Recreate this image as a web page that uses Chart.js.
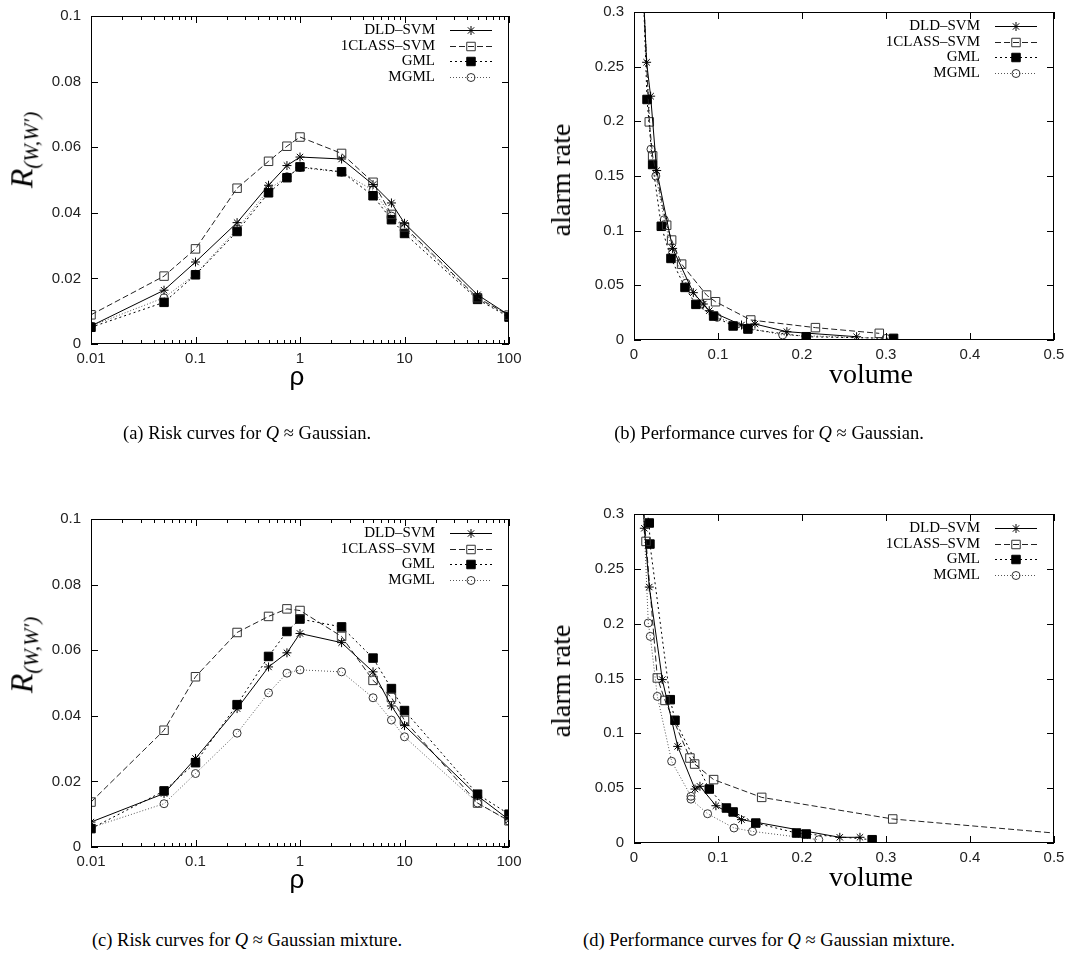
<!DOCTYPE html>
<html>
<head>
<meta charset="utf-8">
<script src="https://cdn.jsdelivr.net/npm/chart.js@4.4.1/dist/chart.umd.min.js"></script>
<style>
  body { margin: 0; background: #fff; width: 1090px; height: 955px; position: relative; overflow: hidden; }
  canvas { position: absolute; }
  .cap { position: absolute; font-family: "Liberation Serif", "Times New Roman", serif; font-size: 18.5px; color: #000; white-space: nowrap; transform: translate(-50%, -50%); line-height: 1; }
  .xt { position: absolute; white-space: nowrap; color: #000; transform: translate(-50%, -50%); line-height: 1; }
  .yt { position: absolute; white-space: nowrap; color: #000; transform: translate(-50%, -50%) rotate(-90deg); line-height: 1; }
  .rho { font-family: "Liberation Sans", Arial, sans-serif; font-size: 26px; }
  .serif { font-family: "Liberation Serif", "Times New Roman", serif; font-size: 28px; }
  .rt { font-family: "Liberation Serif", "Times New Roman", serif; font-size: 32px; font-style: italic; }
  .rt sub { font-size: 21px; vertical-align: -0.3em; }
</style>
</head>
<body>
<canvas id="riskGauss" width="545" height="400" style="left:0;top:0"></canvas>
<canvas id="perfGauss" width="545" height="400" style="left:545px;top:0"></canvas>
<canvas id="riskMix" width="545" height="400" style="left:0;top:500px"></canvas>
<canvas id="perfMix" width="545" height="400" style="left:545px;top:500px"></canvas>

<div class="yt rt" style="left:24px;top:150px">R<sub>(W,W′)</sub></div>
<div class="yt rt" style="left:24px;top:655px">R<sub>(W,W′)</sub></div>
<div class="yt serif" style="left:561px;top:180px">alarm rate</div>
<div class="yt serif" style="left:561px;top:681px">alarm rate</div>
<div class="xt rho" style="left:297px;top:376px">ρ</div>
<div class="xt rho" style="left:297px;top:879px">ρ</div>
<div class="xt serif" style="left:871px;top:374px">volume</div>
<div class="xt serif" style="left:871px;top:877px">volume</div>

<div class="cap" style="left:247px;top:433px">(a) Risk curves for <i>Q</i> ≈ Gaussian.</div>
<div class="cap" style="left:769px;top:433px">(b) Performance curves for <i>Q</i> ≈ Gaussian.</div>
<div class="cap" style="left:247px;top:940px">(c) Risk curves for <i>Q</i> ≈ Gaussian mixture.</div>
<div class="cap" style="left:769px;top:940px">(d) Performance curves for <i>Q</i> ≈ Gaussian mixture.</div>

<script>
// axes
const rhoValues = [0.01, 0.05, 0.1, 0.25, 0.5, 0.75, 1, 2.5, 5, 7.5, 10, 50, 100];
const rhoTicks = [0.01, 0.1, 1, 10, 100];
const riskTicks = [0, 0.02, 0.04, 0.06, 0.08, 0.1];
const volumeTicks = [0, 0.1, 0.2, 0.3, 0.4, 0.5];
const alarmTicks = [0, 0.05, 0.1, 0.15, 0.2, 0.25, 0.3];

// (a) risk, Q ~ Gaussian
const riskGaussDLD = [0.0055, 0.0164, 0.025, 0.037, 0.0484, 0.0544, 0.057, 0.0564, 0.0486, 0.043, 0.0368, 0.015, 0.0088];
const riskGauss1Class = [0.0089, 0.0207, 0.029, 0.0475, 0.0557, 0.0603, 0.0631, 0.0581, 0.0493, 0.0395, 0.0357, 0.0141, 0.0088];
const riskGaussGML = [0.0051, 0.0127, 0.0211, 0.0343, 0.0461, 0.0507, 0.054, 0.0525, 0.0452, 0.0379, 0.0337, 0.0136, 0.0082];
const riskGaussMGML = [0.0055, 0.0141, 0.0213, 0.035, 0.0471, 0.051, 0.0538, 0.0524, 0.0469, 0.039, 0.0352, 0.0139, 0.0086];

// (c) risk, Q ~ Gaussian mixture
const riskMixDLD = [0.0076, 0.0163, 0.027, 0.0422, 0.0549, 0.0592, 0.0651, 0.0623, 0.0534, 0.043, 0.037, 0.0156, 0.0083];
const riskMix1Class = [0.0137, 0.0356, 0.0519, 0.0654, 0.0703, 0.0726, 0.0721, 0.0642, 0.0508, 0.0456, 0.0386, 0.0134, 0.008];
const riskMixGML = [0.0056, 0.0171, 0.0257, 0.0434, 0.0581, 0.0657, 0.0695, 0.0671, 0.0576, 0.0483, 0.0416, 0.0161, 0.01];
const riskMixMGML = [0.0059, 0.0132, 0.0224, 0.0347, 0.047, 0.053, 0.054, 0.0534, 0.0455, 0.0387, 0.0336, 0.0134, 0.0079];

// (b) performance, Q ~ Gaussian
const perfGaussDLDVol = [0.011, 0.015, 0.0198, 0.027, 0.046, 0.0706, 0.0825, 0.0896, 0.128, 0.144, 0.182, 0.265];
const perfGaussDLDAlarm = [0.32, 0.254, 0.223, 0.155, 0.0838, 0.0433, 0.0329, 0.0268, 0.0137, 0.0146, 0.0076, 0.003];
const perfGauss1ClassVol = [0.011, 0.0182, 0.0222, 0.0389, 0.0448, 0.0567, 0.0864, 0.0971, 0.139, 0.216, 0.292];
const perfGauss1ClassAlarm = [0.32, 0.1995, 0.1684, 0.105, 0.0914, 0.0694, 0.0411, 0.035, 0.0183, 0.0113, 0.0061];
const perfGaussGMLVol = [0.011, 0.0155, 0.0222, 0.0325, 0.044, 0.0607, 0.0737, 0.0948, 0.118, 0.1356, 0.205, 0.309];
const perfGaussGMLAlarm = [0.32, 0.22, 0.1605, 0.104, 0.0746, 0.0481, 0.0326, 0.0219, 0.0128, 0.010, 0.003, 0.0015];
const perfGaussMGMLVol = [0.011, 0.0202, 0.026, 0.036, 0.046, 0.062, 0.08, 0.099, 0.135, 0.177, 0.30];
const perfGaussMGMLAlarm = [0.32, 0.1745, 0.15, 0.11, 0.08, 0.052, 0.033, 0.0207, 0.011, 0.0046, 0.0015];

// (d) performance, Q ~ Gaussian mixture
const perfMixDLDVol = [0.011, 0.0123, 0.0182, 0.0337, 0.052, 0.0726, 0.0785, 0.0975, 0.128, 0.245, 0.269];
const perfMixDLDAlarm = [0.31, 0.287, 0.2334, 0.149, 0.0881, 0.0492, 0.0517, 0.034, 0.0213, 0.0052, 0.0052];
const perfMix1ClassVol = [0.011, 0.0143, 0.0278, 0.0369, 0.0666, 0.0722, 0.0948, 0.152, 0.308, 0.56];
const perfMix1ClassAlarm = [0.31, 0.275, 0.1505, 0.13, 0.0775, 0.072, 0.0578, 0.0416, 0.0219, 0.0051];
const perfMixGMLVol = [0.013, 0.0182, 0.019, 0.0432, 0.0488, 0.0896, 0.11, 0.118, 0.145, 0.1935, 0.205, 0.2835];
const perfMixGMLAlarm = [0.31, 0.2918, 0.2726, 0.1307, 0.1119, 0.0492, 0.0319, 0.0283, 0.0182, 0.0091, 0.0082, 0.003];
const perfMixMGMLVol = [0.011, 0.017, 0.0194, 0.0278, 0.0448, 0.0678, 0.0678, 0.0876, 0.119, 0.141, 0.22];
const perfMixMGMLAlarm = [0.31, 0.2006, 0.1884, 0.1337, 0.0745, 0.0426, 0.040, 0.0267, 0.0137, 0.0106, 0.003];

const seriesStyle = {
  dld:  { label: "DLD–SVM",    borderColor: "#000", borderDash: [],     pointStyle: "star",   pointRadius: 4.5, pointBackgroundColor: "rgba(0,0,0,0)", pointBorderColor: "#000" },
  one:  { label: "1CLASS–SVM", borderColor: "#222", borderDash: [6, 3], pointStyle: "rect",   pointRadius: 6,   pointBackgroundColor: "rgba(0,0,0,0)", pointBorderColor: "#333" },
  gml:  { label: "GML",        borderColor: "#000", borderDash: [2, 3], pointStyle: "rect",   pointRadius: 6,   pointBackgroundColor: "#000",          pointBorderColor: "#000" },
  mgml: { label: "MGML",       borderColor: "#555", borderDash: [1, 2], pointStyle: "circle", pointRadius: 4,   pointBackgroundColor: "rgba(0,0,0,0)", pointBorderColor: "#333" }
};

function series(key, xs, ys) {
  const s = seriesStyle[key];
  return Object.assign({}, s, {
    data: xs.map((x, i) => ({ x: x, y: ys[i] })),
    showLine: true,
    borderWidth: 1,
    pointBorderWidth: 1,
    pointHoverRadius: s.pointRadius
  });
}

// box around the plot + inward ticks on all four sides
const frame = {
  id: "frame",
  afterDatasetsDraw(chart) {
    const ctx = chart.ctx, a = chart.chartArea, x = chart.scales.x, y = chart.scales.y;
    ctx.save();
    ctx.strokeStyle = "#000";
    ctx.lineWidth = 1;
    ctx.setLineDash([]);
    ctx.strokeRect(Math.round(a.left) + 0.5, Math.round(a.top) + 0.5, Math.round(a.right - a.left) - 1, Math.round(a.bottom - a.top) - 1);
    ctx.beginPath();
    const xTick = (v, len) => {
      const px = Math.round(x.getPixelForValue(v)) + 0.5;
      ctx.moveTo(px, a.bottom); ctx.lineTo(px, a.bottom - len);
      ctx.moveTo(px, a.top); ctx.lineTo(px, a.top + len);
    };
    const yTick = (v, len) => {
      const py = Math.round(y.getPixelForValue(v)) + 0.5;
      ctx.moveTo(a.left, py); ctx.lineTo(a.left + len, py);
      ctx.moveTo(a.right, py); ctx.lineTo(a.right - len, py);
    };
    x.ticks.forEach(t => xTick(t.value, 7));
    y.ticks.forEach(t => yTick(t.value, 7));
    if (x.type === "logarithmic") {
      for (let d = x.min; d < x.max; d *= 10) {
        for (let k = 2; k <= 9; k++) xTick(d * k, 4);
      }
    }
    ctx.stroke();
    ctx.restore();
  }
};

// gnuplot style key: label, then line sample with marker
const keyBox = {
  id: "keyBox",
  afterDatasetsDraw(chart) {
    const ctx = chart.ctx, a = chart.chartArea;
    ctx.save();
    ctx.font = '15px "Liberation Serif", "Times New Roman", serif';
    ctx.textAlign = "right";
    ctx.textBaseline = "middle";
    chart.data.datasets.forEach((ds, i) => {
      const yy = Math.round(a.top + 14 + i * 15.6) + 0.5;
      ctx.fillStyle = "#000";
      ctx.fillText(ds.label, a.right - 74, yy);
      ctx.strokeStyle = ds.borderColor;
      ctx.lineWidth = 1;
      ctx.setLineDash(ds.borderDash);
      ctx.beginPath();
      ctx.moveTo(a.right - 59, yy);
      ctx.lineTo(a.right - 17, yy);
      ctx.stroke();
      ctx.setLineDash([]);
      ctx.fillStyle = ds.pointBackgroundColor;
      ctx.strokeStyle = ds.pointBorderColor;
      Chart.helpers.drawPoint(ctx, { pointStyle: ds.pointStyle, radius: ds.pointRadius, borderWidth: 1, rotation: 0 }, a.right - 38, yy);
    });
    ctx.restore();
  }
};

const tickFont = { family: '"Liberation Sans", Arial, sans-serif', size: 15 };

function makeChart(id, area, xOpts, yOpts, datasets) {
  const xh = 40;
  return new Chart(document.getElementById(id), {
    type: "scatter",
    data: { datasets: datasets },
    options: {
      responsive: false,
      animation: false,
      events: [],
      layout: { padding: { left: 0, top: area.top, right: 545 - area.right, bottom: 400 - area.bottom - xh } },
      plugins: { legend: { display: false }, tooltip: { enabled: false } },
      scales: {
        x: Object.assign({
          grid: { display: false },
          border: { display: false },
          afterFit: s => { s.height = xh; },
          ticks: { font: tickFont, color: "#222", padding: -2, maxRotation: 0, autoSkip: false, callback: v => String(v) }
        }, xOpts),
        y: Object.assign({
          grid: { display: false },
          border: { display: false },
          afterFit: s => { s.width = area.left; },
          ticks: { font: tickFont, color: "#222", padding: 2, autoSkip: false, callback: v => String(+v.toFixed(3)) }
        }, yOpts)
      }
    },
    plugins: [frame, keyBox]
  });
}

const rhoAxis = { type: "logarithmic", min: 0.01, max: 100, afterBuildTicks: s => { s.ticks = rhoTicks.map(v => ({ value: v })); } };
const riskAxis = { type: "linear", min: 0, max: 0.1, afterBuildTicks: s => { s.ticks = riskTicks.map(v => ({ value: v })); } };
const volAxis = { type: "linear", min: 0, max: 0.5, afterBuildTicks: s => { s.ticks = volumeTicks.map(v => ({ value: v })); } };
const alarmAxis = { type: "linear", min: 0, max: 0.3, afterBuildTicks: s => { s.ticks = alarmTicks.map(v => ({ value: v })); } };

makeChart("riskGauss", { left: 91, right: 509, top: 16, bottom: 344 }, rhoAxis, riskAxis, [
  series("dld", rhoValues, riskGaussDLD),
  series("one", rhoValues, riskGauss1Class),
  series("gml", rhoValues, riskGaussGML),
  series("mgml", rhoValues, riskGaussMGML)
]);

makeChart("perfGauss", { left: 89, right: 509, top: 12, bottom: 340 }, volAxis, alarmAxis, [
  series("dld", perfGaussDLDVol, perfGaussDLDAlarm),
  series("one", perfGauss1ClassVol, perfGauss1ClassAlarm),
  series("gml", perfGaussGMLVol, perfGaussGMLAlarm),
  series("mgml", perfGaussMGMLVol, perfGaussMGMLAlarm)
]);

makeChart("riskMix", { left: 91, right: 509, top: 19, bottom: 347 }, rhoAxis, riskAxis, [
  series("dld", rhoValues, riskMixDLD),
  series("one", rhoValues, riskMix1Class),
  series("gml", rhoValues, riskMixGML),
  series("mgml", rhoValues, riskMixMGML)
]);

makeChart("perfMix", { left: 89, right: 509, top: 14, bottom: 343 }, volAxis, alarmAxis, [
  series("dld", perfMixDLDVol, perfMixDLDAlarm),
  series("one", perfMix1ClassVol, perfMix1ClassAlarm),
  series("gml", perfMixGMLVol, perfMixGMLAlarm),
  series("mgml", perfMixMGMLVol, perfMixMGMLAlarm)
]);
</script>
</body>
</html>
